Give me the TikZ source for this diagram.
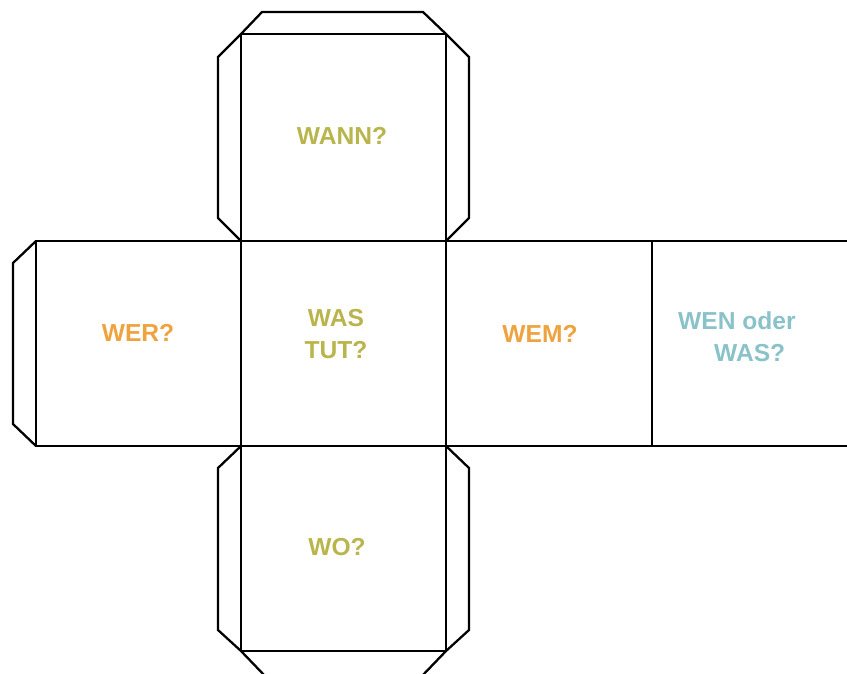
\documentclass[tikz,border=0pt]{standalone}
\usepackage{fontspec}
\setmainfont{Liberation Sans}
\usepackage{xcolor}
\definecolor{QOlive}{HTML}{B9B54C}
\definecolor{QOrange}{HTML}{EFA33E}
\definecolor{QTeal}{HTML}{8AC2CA}
\tikzset{
  qlabel/.style={font=\fontsize{14}{18}\selectfont\bfseries,align=center,inner sep=0pt},
}
\begin{document}
\begin{tikzpicture}[x=0.02cm,y=-0.02cm,line width=1.3pt]
\path[use as bounding box] (0,0) rectangle (847,673);
\clip (0,0) rectangle (847,673);
% faces
\draw (241,34) rectangle (446,241);
\draw (36,241) rectangle (241,446);
\draw (241,241) rectangle (446,446);
\draw (446,241) rectangle (652,446);
\draw (652,241) -- (852,241);
\draw (652,446) -- (852,446);
\draw (241,446) rectangle (446,651);
% flaps of the top face
\draw (241,34) -- (262,12) -- (423,12) -- (446,34);
\draw (241,34) -- (218,57) -- (218,218) -- (241,241);
\draw (446,34) -- (469,57) -- (469,218) -- (446,241);
% flap of the left face
\draw (36,241) -- (13,263) -- (13,424) -- (36,446);
% flaps of the bottom face
\draw (241,446) -- (218,468) -- (218,630) -- (241,651);
\draw (446,446) -- (469,468) -- (469,630) -- (446,651);
\draw (241,651) -- (266,677) -- (421,677) -- (446,651);
% labels
\node[qlabel,text=QOlive] (wann) at (342,136) {WANN?};
\node[qlabel,text=QOrange] (wer) at (138,333) {WER?};
\node[qlabel,text=QOlive] (wastut) at (336,334) {WAS\\TUT?};
\node[qlabel,text=QOrange] (wem) at (540,334) {WEM?};
\node[qlabel,text=QTeal,align=left,anchor=west] (wenwas) at (677,337) {WEN oder\\\hspace*{0.72cm}WAS?};
\node[qlabel,text=QOlive] (wo) at (337,547) {WO?};
\end{tikzpicture}
\end{document}
